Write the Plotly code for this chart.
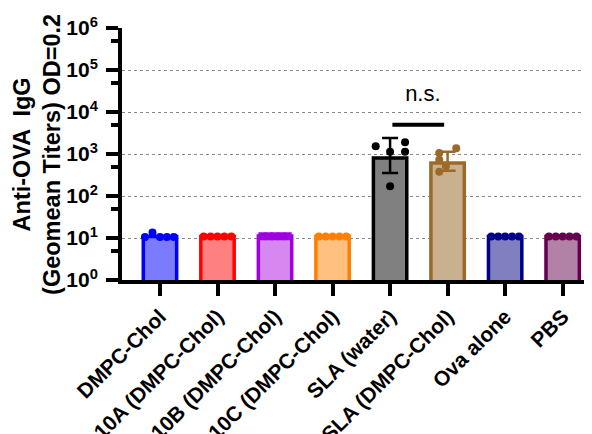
import plotly.graph_objects as go

categories = ["DMPC-Chol", "10A (DMPC-Chol)", "10B (DMPC-Chol)", "10C (DMPC-Chol)",
              "SLA (water)", "SLA (DMPC-Chol)", "Ova alone", "PBS"]
bar_values = [10.8, 10.8, 11.2, 10.8, 800, 610, 10.8, 10.8]
outline_colors = ["#0000FF", "#FF0000", "#A000E0", "#FF8000", "#000000", "#9C6A28", "#00008B", "#650050"]
fill_colors = ["#7B7BFF", "#FF8080", "#D787F0", "#FFC080", "#808080", "#C9B18F", "#8080C0", "#B281A6"]
dot_symbols = ["circle", "circle", "square", "circle", "circle", "circle", "circle", "circle"]

# individual animal titers (per group) and horizontal jitter offsets
dot_values = [
    [10.5, 13.5, 10.5, 10.5, 10.5],
    [10.8, 10.8, 10.8, 10.8, 10.8],
    [11.0, 11.0, 11.0, 11.0, 11.0],
    [10.8, 10.8, 10.8, 10.8, 10.8],
    [1525, 1135, 1900, 1135, 170],
    [1056, 1368, 731, 380, 516],
    [10.8, 10.8, 10.8, 10.8, 10.8],
    [10.8, 10.8, 10.8, 10.8, 10.8],
]
dot_offsets = [
    [-0.26, -0.13, 0.0, 0.12, 0.24],
    [-0.24, -0.12, 0.0, 0.12, 0.24],
    [-0.22, -0.11, 0.0, 0.11, 0.22],
    [-0.24, -0.12, 0.0, 0.12, 0.24],
    [-0.25, 0.0, 0.26, 0.26, 0.0],
    [-0.145, 0.15, -0.145, -0.145, -0.03],
    [-0.24, -0.12, 0.0, 0.12, 0.24],
    [-0.24, -0.12, 0.0, 0.12, 0.24],
]
# error bars (upper / lower limits) for SLA groups
err_groups = [4, 5]
err_upper = [2400, 1135]
err_lower = [353, 400]

ytick_vals = [1, 10, 100, 1000, 10000, 100000, 1000000]
ytick_text = ["10<sup>%d</sup>" % i for i in range(7)]
minor_vals = [5, 50, 500, 5000, 50000, 500000]

ns_x = [4.04, 4.94]
ns_y = 5000
ns_text_y = 25000

fig = go.Figure()
fig.add_trace(go.Bar(
    x=list(range(len(categories))), y=bar_values, width=0.58,
    marker=dict(color=fill_colors, line=dict(color=outline_colors, width=3.5)),
    showlegend=False, hoverinfo="skip"))

for g, up, lo in zip(err_groups, err_upper, err_lower):
    fig.add_trace(go.Scatter(
        x=[g], y=[bar_values[g]], mode="markers",
        marker=dict(size=1, color="rgba(0,0,0,0)"),
        error_y=dict(type="data", symmetric=False,
                     array=[up - bar_values[g]], arrayminus=[bar_values[g] - lo],
                     color=outline_colors[g], thickness=2.5, width=8),
        showlegend=False))

for i, (vals, offs) in enumerate(zip(dot_values, dot_offsets)):
    fig.add_trace(go.Scatter(
        x=[i + o for o in offs], y=vals, mode="markers",
        marker=dict(size=8, color=outline_colors[i], symbol=dot_symbols[i],
                    line=dict(width=0)),
        showlegend=False))

fig.add_trace(go.Scatter(x=ns_x, y=[ns_y, ns_y], mode="lines",
                         line=dict(color="black", width=4), showlegend=False))
fig.add_trace(go.Scatter(x=[sum(ns_x) / 2 + 0.08], y=[ns_text_y], mode="text", text=["n.s."],
                         textfont=dict(family="Arial", size=22, color="black"),
                         showlegend=False))

fig.add_annotation(
    text="<b>Anti-OVA  IgG<br>(Geomean Titers) OD=0.2</b>",
    xref="paper", yref="paper", x=-0.181, y=0.5, textangle=-90,
    showarrow=False, xanchor="center", yanchor="middle",
    font=dict(family="Arial", size=23.5, color="black"))

fig.update_layout(
    width=592, height=434,
    margin=dict(l=114, r=8, t=20, b=162, autoexpand=False),
    paper_bgcolor="white", plot_bgcolor="white",
    showlegend=False,
    xaxis=dict(range=[-0.66, 7.51], tickmode="array", tickvals=list(range(len(categories))),
               ticktext=categories, tickangle=-45, automargin=False,
               tickfont=dict(family="Arial", size=21, color="black", weight="bold"),
               showline=True, linewidth=4, linecolor="black", showgrid=False,
               ticks="outside", ticklen=12, tickwidth=4, tickcolor="black", zeroline=False),
    yaxis=dict(type="log", range=[0, 6], tickmode="array", tickvals=ytick_vals,
               ticktext=ytick_text, automargin=False, ticklabelstandoff=4,
               tickfont=dict(family="Arial", size=21, color="black", weight="bold"),
               showline=True, linewidth=4, linecolor="black",
               showgrid=True, gridcolor="#8a8a8a", gridwidth=1, griddash="dot",
               ticks="outside", ticklen=12, tickwidth=4, tickcolor="black",
               minor=dict(tickmode="array", tickvals=minor_vals, ticks="outside",
                          ticklen=7, tickwidth=4, tickcolor="black", showgrid=False),
               zeroline=False),
)

fig.write_html("out.html")
